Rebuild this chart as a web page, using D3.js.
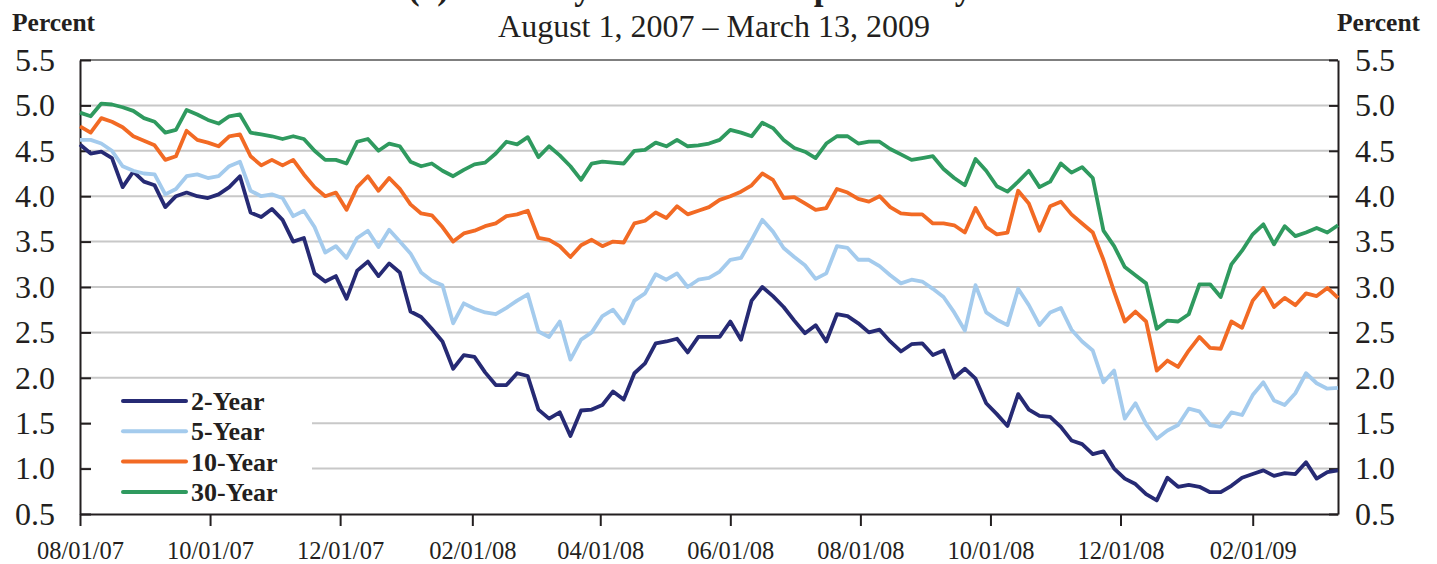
<!DOCTYPE html>
<html>
<head>
<meta charset="utf-8">
<script src="https://cdn.jsdelivr.net/npm/d3@7"></script>
<style>
body { margin: 0; background: #fff; }
svg text { font-family: "Liberation Serif", "Times New Roman", serif; fill: #231f20; }
</style>
</head>
<body>
<svg width="1437" height="564"></svg>
<script>
var dates = [
  "2007-08-01","2007-08-06","2007-08-11","2007-08-16","2007-08-21","2007-08-26","2007-08-31","2007-09-05","2007-09-10","2007-09-15",
  "2007-09-20","2007-09-25","2007-09-30","2007-10-05","2007-10-10","2007-10-15","2007-10-20","2007-10-25","2007-10-30","2007-11-04",
  "2007-11-09","2007-11-14","2007-11-19","2007-11-24","2007-11-29","2007-12-04","2007-12-09","2007-12-14","2007-12-19","2007-12-24",
  "2007-12-29","2008-01-03","2008-01-08","2008-01-13","2008-01-18","2008-01-23","2008-01-28","2008-02-02","2008-02-07","2008-02-12",
  "2008-02-17","2008-02-22","2008-02-27","2008-03-03","2008-03-08","2008-03-13","2008-03-18","2008-03-23","2008-03-28","2008-04-02",
  "2008-04-07","2008-04-12","2008-04-17","2008-04-22","2008-04-27","2008-05-02","2008-05-07","2008-05-12","2008-05-17","2008-05-22",
  "2008-05-27","2008-06-01","2008-06-06","2008-06-11","2008-06-16","2008-06-21","2008-06-26","2008-07-01","2008-07-06","2008-07-11",
  "2008-07-16","2008-07-21","2008-07-26","2008-07-31","2008-08-05","2008-08-10","2008-08-15","2008-08-20","2008-08-25","2008-08-30",
  "2008-09-04","2008-09-09","2008-09-14","2008-09-19","2008-09-24","2008-09-29","2008-10-04","2008-10-09","2008-10-14","2008-10-19",
  "2008-10-24","2008-10-29","2008-11-03","2008-11-08","2008-11-13","2008-11-18","2008-11-23","2008-11-28","2008-12-03","2008-12-08",
  "2008-12-13","2008-12-18","2008-12-23","2008-12-28","2009-01-02","2009-01-07","2009-01-12","2009-01-17","2009-01-22","2009-01-27",
  "2009-02-01","2009-02-06","2009-02-11","2009-02-16","2009-02-21","2009-02-26","2009-03-03","2009-03-08","2009-03-13"
];

var y2 = [
  4.57,4.47,4.49,4.42,4.10,4.27,4.16,4.12,3.88,4.00,4.04,4.00,3.98,4.02,4.10,4.22,3.82,3.77,3.86,3.74,
  3.50,3.54,3.15,3.06,3.12,2.87,3.18,3.28,3.12,3.26,3.16,2.73,2.67,2.54,2.40,2.10,2.25,2.23,2.06,1.92,
  1.92,2.05,2.02,1.65,1.55,1.62,1.36,1.64,1.65,1.70,1.85,1.76,2.05,2.16,2.38,2.40,2.43,2.28,2.45,2.45,
  2.45,2.62,2.42,2.85,3.00,2.90,2.78,2.63,2.49,2.58,2.40,2.70,2.68,2.60,2.50,2.53,2.40,2.29,2.37,2.38,
  2.25,2.30,2.00,2.10,1.99,1.72,1.60,1.47,1.82,1.65,1.58,1.57,1.46,1.31,1.27,1.16,1.19,1.00,0.89,0.83,
  0.72,0.65,0.90,0.80,0.82,0.80,0.74,0.74,0.81,0.90,0.94,0.98,0.92,0.95,0.94,1.07,0.89,0.96,0.98
];

var y5 = [
  4.62,4.62,4.58,4.50,4.33,4.28,4.25,4.24,4.02,4.08,4.22,4.24,4.20,4.22,4.33,4.38,4.06,4.00,4.02,3.98,
  3.78,3.84,3.66,3.38,3.45,3.32,3.54,3.62,3.44,3.63,3.50,3.37,3.16,3.07,3.02,2.60,2.82,2.76,2.72,2.70,
  2.77,2.85,2.92,2.51,2.45,2.62,2.20,2.42,2.50,2.68,2.75,2.60,2.85,2.93,3.14,3.08,3.15,3.00,3.08,3.10,
  3.17,3.30,3.32,3.52,3.74,3.61,3.43,3.33,3.24,3.09,3.15,3.45,3.43,3.30,3.30,3.23,3.13,3.04,3.08,3.06,
  2.98,2.89,2.72,2.52,3.02,2.72,2.64,2.58,2.98,2.80,2.58,2.72,2.77,2.53,2.40,2.30,1.95,2.08,1.55,1.72,
  1.49,1.33,1.42,1.48,1.66,1.63,1.48,1.46,1.62,1.59,1.81,1.95,1.75,1.70,1.83,2.05,1.94,1.88,1.89
];

var y10 = [
  4.77,4.70,4.86,4.82,4.76,4.66,4.61,4.56,4.40,4.44,4.72,4.62,4.59,4.55,4.66,4.68,4.44,4.34,4.40,4.34,
  4.40,4.24,4.10,4.00,4.04,3.85,4.10,4.22,4.06,4.20,4.08,3.91,3.81,3.79,3.66,3.50,3.59,3.62,3.67,3.70,
  3.78,3.80,3.84,3.54,3.52,3.45,3.33,3.46,3.52,3.45,3.50,3.49,3.70,3.73,3.82,3.76,3.89,3.80,3.84,3.88,
  3.96,4.00,4.05,4.12,4.25,4.18,3.98,3.99,3.92,3.85,3.87,4.08,4.04,3.97,3.94,4.00,3.88,3.81,3.80,3.80,
  3.70,3.70,3.68,3.60,3.87,3.66,3.58,3.60,4.06,3.92,3.62,3.89,3.94,3.80,3.70,3.60,3.30,2.95,2.62,2.73,
  2.62,2.08,2.19,2.12,2.30,2.45,2.33,2.32,2.62,2.55,2.85,2.99,2.78,2.88,2.80,2.93,2.90,2.99,2.88
];

var y30 = [
  4.92,4.88,5.02,5.01,4.98,4.94,4.86,4.82,4.70,4.73,4.95,4.90,4.84,4.80,4.88,4.90,4.70,4.68,4.66,4.63,
  4.66,4.63,4.50,4.40,4.40,4.36,4.60,4.63,4.50,4.58,4.55,4.38,4.33,4.36,4.28,4.22,4.29,4.35,4.37,4.47,
  4.60,4.57,4.65,4.43,4.55,4.45,4.33,4.18,4.36,4.38,4.37,4.36,4.50,4.51,4.59,4.55,4.62,4.55,4.56,4.58,
  4.62,4.73,4.70,4.66,4.81,4.75,4.62,4.53,4.49,4.42,4.58,4.66,4.66,4.58,4.60,4.60,4.52,4.46,4.40,4.42,
  4.44,4.30,4.20,4.12,4.41,4.28,4.11,4.05,4.16,4.28,4.10,4.16,4.36,4.26,4.32,4.20,3.62,3.45,3.22,3.13,
  3.04,2.54,2.63,2.62,2.70,3.03,3.03,2.89,3.25,3.40,3.58,3.69,3.47,3.67,3.56,3.60,3.65,3.60,3.68
];

var seriesNames = ["2-Year", "5-Year", "10-Year", "30-Year"];
var seriesColors = ["#262a74", "#a4cbed", "#f26a24", "#2f9a5f"];
var seriesValues = [y2, y5, y10, y30];

var yTicks = [0.5, 1.0, 1.5, 2.0, 2.5, 3.0, 3.5, 4.0, 4.5, 5.0, 5.5];
var xTickDates = ["2007-08-01","2007-10-01","2007-12-01","2008-02-01","2008-04-01","2008-06-01","2008-08-01","2008-10-01","2008-12-01","2009-02-01"];
var xTickLabels = ["08/01/07","10/01/07","12/01/07","02/01/08","04/01/08","06/01/08","08/01/08","10/01/08","12/01/08","02/01/09"];

var parseDate = d3.timeParse("%Y-%m-%d");
var svg = d3.select("svg");

var plotLeft = 80, plotRight = 1338, plotTop = 60, plotBottom = 514;

var xScale = d3.scaleTime()
  .domain([parseDate("2007-08-01"), parseDate("2009-03-13")])
  .range([plotLeft, plotRight]);
var yScale = d3.scaleLinear().domain([0.5, 5.5]).range([plotBottom, plotTop]);

svg.append("rect").attr("width", 1437).attr("height", 564).attr("fill", "#fff");

// titles (first line is cut by the top edge, as in the source)
svg.append("text")
  .attr("x", 408).attr("y", -1)
  .attr("font-weight", "bold")
  .attr("font-size", 35)
  .text("(a) Treasury Yields: A Comparison by Term");

svg.append("text")
  .attr("x", 714).attr("y", 37)
  .attr("text-anchor", "middle")
  .attr("font-size", 32)
  .text("August 1, 2007 \u2013 March 13, 2009");

svg.append("text")
  .attr("x", 12).attr("y", 31)
  .attr("font-weight", "bold")
  .attr("font-size", 25.5)
  .text("Percent");

svg.append("text")
  .attr("x", 1337).attr("y", 31)
  .attr("font-weight", "bold")
  .attr("font-size", 25.5)
  .text("Percent");

// grid
svg.append("g")
  .selectAll("line")
  .data(yTicks.filter(function(t) { return t > 0.5; }))
  .enter()
  .append("line")
  .attr("x1", plotLeft).attr("x2", plotRight)
  .attr("y1", function(d) { return yScale(d); })
  .attr("y2", function(d) { return yScale(d); })
  .attr("stroke", function(d) { return d === 5.5 ? "#7f7f7f" : "#c8c8c8"; })
  .attr("stroke-width", 2);

// legend box hides the grid behind it
svg.append("rect")
  .attr("x", 91).attr("y", 386)
  .attr("width", 221).attr("height", 122)
  .attr("fill", "#fff");

// axes
var yLeft = svg.append("g")
  .attr("transform", "translate(" + plotLeft + ",0)")
  .call(d3.axisLeft(yScale).tickValues(yTicks).tickFormat(d3.format(".1f"))
    .tickSize(-11).tickSizeOuter(0).tickPadding(25));

var yRight = svg.append("g")
  .attr("transform", "translate(" + plotRight + ",0)")
  .call(d3.axisRight(yScale).tickValues(yTicks).tickFormat(d3.format(".1f"))
    .tickSize(-9).tickSizeOuter(0).tickPadding(17));

var xAxis = svg.append("g")
  .attr("transform", "translate(0," + plotBottom + ")")
  .call(d3.axisBottom(xScale).tickValues(xTickDates.map(parseDate))
    .tickFormat(function(d, i) { return xTickLabels[i]; })
    .tickSize(12).tickSizeOuter(0).tickPadding(16));

[yLeft, yRight, xAxis].forEach(function(a) {
  a.attr("font-family", null).attr("font-size", null);
  a.select(".domain").attr("stroke", "#231f20").attr("stroke-width", 2);
  a.selectAll(".tick line").attr("stroke", "#231f20").attr("stroke-width", 2);
  a.selectAll(".tick text").attr("fill", "#231f20");
});
yLeft.selectAll(".tick text").attr("font-size", 32);
yRight.selectAll(".tick text").attr("font-size", 32);
xAxis.selectAll(".tick text").attr("font-size", 24.5);

// series
var line = d3.line()
  .x(function(d) { return xScale(d.date); })
  .y(function(d) { return yScale(d.val); });

seriesValues.forEach(function(vals, k) {
  var pts = dates.map(function(s, i) { return { date: parseDate(s), val: vals[i] }; });
  svg.append("path")
    .datum(pts)
    .attr("fill", "none")
    .attr("stroke", seriesColors[k])
    .attr("stroke-width", 3.8)
    .attr("stroke-linejoin", "round")
    .attr("d", line);
});

// legend
var legend = svg.append("g")
  .selectAll("g")
  .data(seriesNames)
  .enter()
  .append("g")
  .attr("transform", function(d, i) { return "translate(123," + (401 + i * 30.3) + ")"; });

legend.append("line")
  .attr("x1", 0).attr("x2", 63)
  .attr("stroke", function(d, i) { return seriesColors[i]; })
  .attr("stroke-width", 4)
  .attr("stroke-linecap", "round");

legend.append("text")
  .attr("x", 68).attr("y", 9)
  .attr("font-weight", "bold")
  .attr("font-size", 26)
  .text(function(d) { return d; });
</script>
</body>
</html>
